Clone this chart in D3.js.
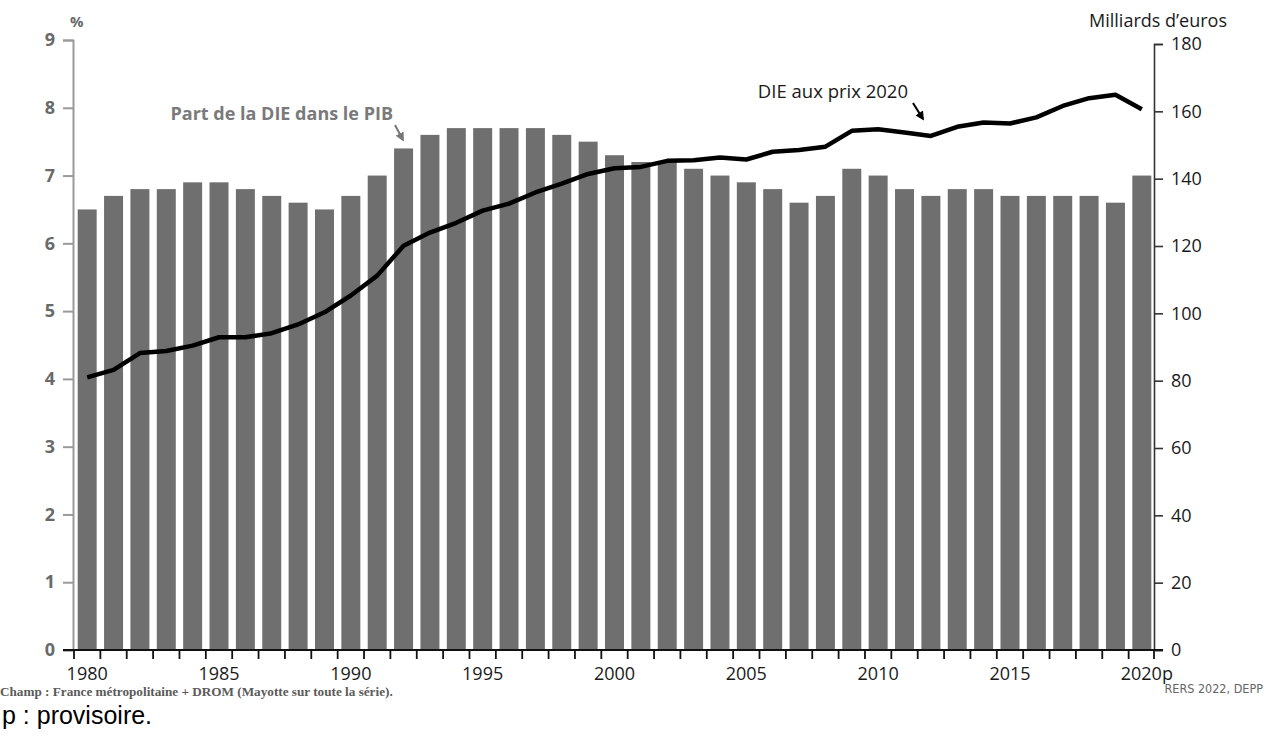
<!DOCTYPE html>
<html>
<head>
<meta charset="utf-8">
<script src="https://cdn.jsdelivr.net/npm/d3@7"></script>
<style>
  html, body { margin: 0; padding: 0; background: #fff; }
  svg { display: block; }
</style>
</head>
<body>
<svg id="chart" width="1275" height="751"></svg>
<script>
// ---- Data ----
const years = d3.range(1980, 2021);
const partPIB = [6.5, 6.7, 6.8, 6.8, 6.9, 6.9, 6.8, 6.7, 6.6, 6.5,
                 6.7, 7.0, 7.4, 7.6, 7.7, 7.7, 7.7, 7.7, 7.6, 7.5,
                 7.3, 7.2, 7.2, 7.1, 7.0, 6.9, 6.8, 6.6, 6.7, 7.1,
                 7.0, 6.8, 6.7, 6.8, 6.8, 6.7, 6.7, 6.7, 6.7, 6.6,
                 7.0];
const dieEuros = [81.0, 83.2, 88.2, 88.8, 90.4, 92.9, 92.9, 94.1, 96.7, 100.3,
                  105.3, 111.2, 120.1, 124.0, 126.9, 130.5, 132.6, 135.9, 138.5, 141.4,
                  143.1, 143.5, 145.3, 145.5, 146.3, 145.7, 148.0, 148.5, 149.5, 154.2,
                  154.7, 153.7, 152.7, 155.4, 156.7, 156.4, 158.2, 161.6, 163.9, 164.9,
                  160.6];
const leftTicks = [0, 1, 2, 3, 4, 5, 6, 7, 8, 9];
const rightTicks = [0, 20, 40, 60, 80, 100, 120, 140, 160, 180];
const xLabelYears = [1980, 1985, 1990, 1995, 2000, 2005, 2010, 2015, 2020];
const xLabelText = ["1980", "1985", "1990", "1995", "2000", "2005", "2010", "2015", "2020p"];

// ---- Setup ----
const svg = d3.select("#chart");
const FONT = "'Open Sans', 'DejaVu Sans', sans-serif";
const x0 = 74, x1 = 1155, yBase = 650;

const x = d3.scaleBand().domain(years).range([x0, x1]).paddingInner(0.28).paddingOuter(0.14);
const yL = d3.scaleLinear().domain([0, 9]).range([yBase, 40]);
const yR = d3.scaleLinear().domain([0, 180]).range([yBase, 44]);

// Bars
svg.append("g").selectAll("rect")
  .data(years.map((y, i) => ({ year: y, v: partPIB[i] })))
  .join("rect")
  .attr("x", d => x(d.year))
  .attr("width", x.bandwidth())
  .attr("y", d => yL(d.v))
  .attr("height", d => yL(0) - yL(d.v))
  .attr("fill", "#6f6f6f");

// Left axis
const gL = svg.append("g").attr("transform", `translate(${x0 - 1},0)`)
  .call(d3.axisLeft(yL).tickValues(leftTicks).tickSize(10).tickPadding(8).tickFormat(d3.format("d")));
gL.select(".domain").attr("stroke", "#9a9a9a").attr("stroke-width", 2);
gL.selectAll(".tick line").attr("stroke", "#9a9a9a").attr("stroke-width", 2);
gL.selectAll(".tick text").attr("fill", "#6a6a6a").attr("font-family", FONT)
  .attr("font-weight", "bold").attr("font-size", 18);

// Right axis
const gR = svg.append("g").attr("transform", `translate(${x1 - 1},0)`)
  .call(d3.axisRight(yR).tickValues(rightTicks).tickSize(9).tickPadding(8).tickFormat(d3.format("d")));
gR.select(".domain").attr("stroke", "#333").attr("stroke-width", 1.6);
gR.selectAll(".tick line").attr("stroke", "#333").attr("stroke-width", 1.6);
gR.selectAll(".tick text").attr("fill", "#1a1a1a").attr("font-family", FONT).attr("font-size", 18);

// Bottom axis: baseline, ticks between bars, labels
const step = x.step();
const tickPos = years.map(y => x(y) - step * 0.14).concat([x1 - 1]);
svg.append("line").attr("x1", x0 - 11).attr("x2", x1 + 8).attr("y1", yBase).attr("y2", yBase)
  .attr("stroke", "#111").attr("stroke-width", 2);
svg.append("g").selectAll("line").data(tickPos).join("line")
  .attr("x1", d => d).attr("x2", d => d).attr("y1", yBase).attr("y2", yBase + 9)
  .attr("stroke", "#111").attr("stroke-width", 1.8);

svg.append("g").selectAll("text").data(xLabelYears).join("text")
  .attr("x", (d, i) => x(d) + x.bandwidth() / 2 + (i === xLabelYears.length - 1 ? 5 : 0))
  .attr("y", 680)
  .attr("text-anchor", "middle")
  .attr("font-family", FONT).attr("font-size", 18).attr("fill", "#1a1a1a")
  .text((d, i) => xLabelText[i]);

// Line
const line = d3.line()
  .x((d, i) => x(years[i]) + x.bandwidth() / 2)
  .y(d => yR(d));
svg.append("path").datum(dieEuros)
  .attr("d", line)
  .attr("fill", "none").attr("stroke", "#000").attr("stroke-width", 4.5)
  .attr("stroke-linejoin", "round").attr("stroke-linecap", "butt");

// Axis titles
svg.append("text").attr("x", 70).attr("y", 27)
  .attr("font-family", FONT).attr("font-size", 15).attr("font-weight", "bold").attr("fill", "#6a6a6a")
  .text("%");
svg.append("text").attr("x", 1227).attr("y", 27).attr("text-anchor", "end")
  .attr("font-family", FONT).attr("font-size", 18).attr("fill", "#1a1a1a")
  .text("Milliards d’euros");

// Annotations
const defs = svg.append("defs");
function marker(id, color) {
  defs.append("marker").attr("id", id).attr("viewBox", "0 0 10 10")
    .attr("refX", 8).attr("refY", 5).attr("markerWidth", 4.5).attr("markerHeight", 4.5)
    .attr("orient", "auto")
    .append("path").attr("d", "M0,0 L10,5 L0,10 Z").attr("fill", color);
}
marker("arrGray", "#777");
marker("arrBlack", "#000");

svg.append("text").attr("x", 393).attr("y", 120).attr("text-anchor", "end")
  .attr("font-family", FONT).attr("font-size", 18).attr("font-weight", "bold").attr("fill", "#7a7a7a")
  .text("Part de la DIE dans le PIB");
svg.append("line").attr("x1", 395).attr("y1", 125).attr("x2", 403).attr("y2", 140)
  .attr("stroke", "#777").attr("stroke-width", 2).attr("marker-end", "url(#arrGray)");

svg.append("text").attr("x", 908).attr("y", 98).attr("text-anchor", "end")
  .attr("font-family", FONT).attr("font-size", 18.5).attr("fill", "#1a1a1a")
  .text("DIE aux prix 2020");
svg.append("line").attr("x1", 913).attr("y1", 103).attr("x2", 923).attr("y2", 119)
  .attr("stroke", "#000").attr("stroke-width", 2).attr("marker-end", "url(#arrBlack)");

// Footer
svg.append("text").attr("x", 0).attr("y", 696)
  .attr("font-family", "'Liberation Serif', 'DejaVu Serif', serif").attr("font-size", 13.2)
  .attr("font-weight", "bold").attr("fill", "#5a5a5a")
  .text("Champ : France métropolitaine + DROM (Mayotte sur toute la série).");
svg.append("text").attr("x", 1263).attr("y", 693).attr("text-anchor", "end")
  .attr("font-family", "'Liberation Sans Narrow', 'DejaVu Sans Condensed', sans-serif").attr("font-size", 12.5)
  .attr("fill", "#666")
  .text("RERS 2022, DEPP");
svg.append("text").attr("x", 2).attr("y", 724)
  .attr("font-family", "'Liberation Sans', Arial, sans-serif").attr("font-size", 25)
  .attr("fill", "#000")
  .text("p : provisoire.");
</script>
</body>
</html>
